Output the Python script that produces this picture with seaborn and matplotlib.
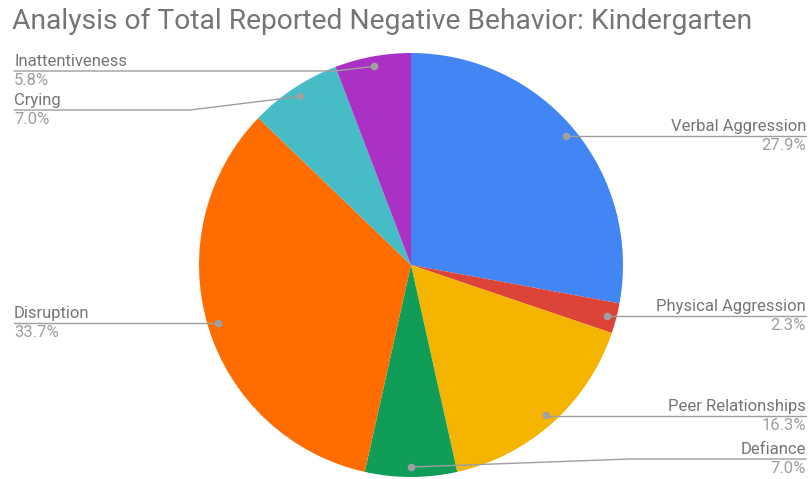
import numpy as np
import matplotlib
matplotlib.use("Agg")
import matplotlib.pyplot as plt
import seaborn as sns

# data
behaviors = ["Verbal Aggression", "Physical Aggression", "Peer Relationships",
             "Defiance", "Disruption", "Crying", "Inattentiveness"]
percents = [27.9, 2.3, 16.3, 7.0, 33.7, 7.0, 5.8]
colors = ["#4285F4", "#DB4437", "#F4B400", "#0F9D58", "#FF6D00", "#46BDC6", "#AB30C4"]

# label layout (pixels from top): side, line y, knee x
label_layout = {
    "Verbal Aggression": ("right", 136, None),
    "Physical Aggression": ("right", 316, None),
    "Peer Relationships": ("right", 416, None),
    "Defiance": ("right", 459, 630),
    "Disruption": ("left", 323, None),
    "Crying": ("left", 110, 190),
    "Inattentiveness": ("left", 71, 335),
}

sns.set_theme(style="white")
plt.rcParams["font.family"] = ["Roboto", "DejaVu Sans"]

W, H = 811, 479
fig = plt.figure(figsize=(W / 100, H / 100), dpi=100)
ax = fig.add_axes([0, 0, 1, 1])

cx, cy, r = 411, H - 265, 212
wedges, _ = ax.pie(percents, colors=colors, startangle=90, counterclock=False,
                   center=(cx, cy), radius=r, frame=True,
                   wedgeprops=dict(linewidth=0))
ax.set_xlim(0, W)
ax.set_ylim(0, H)
ax.set_aspect("equal")
ax.axis("off")

line_c = "#9e9e9e"
name_c = "#757575"
pct_c = "#9e9e9e"
fs = 12
for w, name, pct in zip(wedges, behaviors, percents):
    mid = np.deg2rad((w.theta1 + w.theta2) / 2)
    dx, dy = cx + 0.953 * r * np.cos(mid), cy + 0.953 * r * np.sin(mid)
    side, ly, knee = label_layout[name]
    ly = H - ly
    ax.plot(dx, dy, "o", color="#a0a0a0", ms=4.5, zorder=5)
    if side == "right":
        xe = 806
        kx = knee if knee else dx
        ax.plot([dx, kx, xe], [dy, ly, ly], color=line_c, lw=1, zorder=4)
        ax.text(xe, ly + 2, name, ha="right", va="bottom", color=name_c, fontsize=fs)
        ax.text(xe, ly - 2, f"{pct:.1f}%", ha="right", va="top", color=pct_c, fontsize=fs)
    else:
        xe = 14
        kx = knee if knee else dx
        ax.plot([xe, kx, dx], [ly, ly, dy], color=line_c, lw=1, zorder=4)
        ax.text(xe, ly + 2, name, ha="left", va="bottom", color=name_c, fontsize=fs)
        ax.text(xe, ly - 2, f"{pct:.1f}%", ha="left", va="top", color=pct_c, fontsize=fs)

ax.text(12, H - 21, "Analysis of Total Reported Negative Behavior: Kindergarten",
        ha="left", va="center", color="#757575", fontsize=20.3)

fig.savefig("out.png", dpi=100, facecolor="white")
